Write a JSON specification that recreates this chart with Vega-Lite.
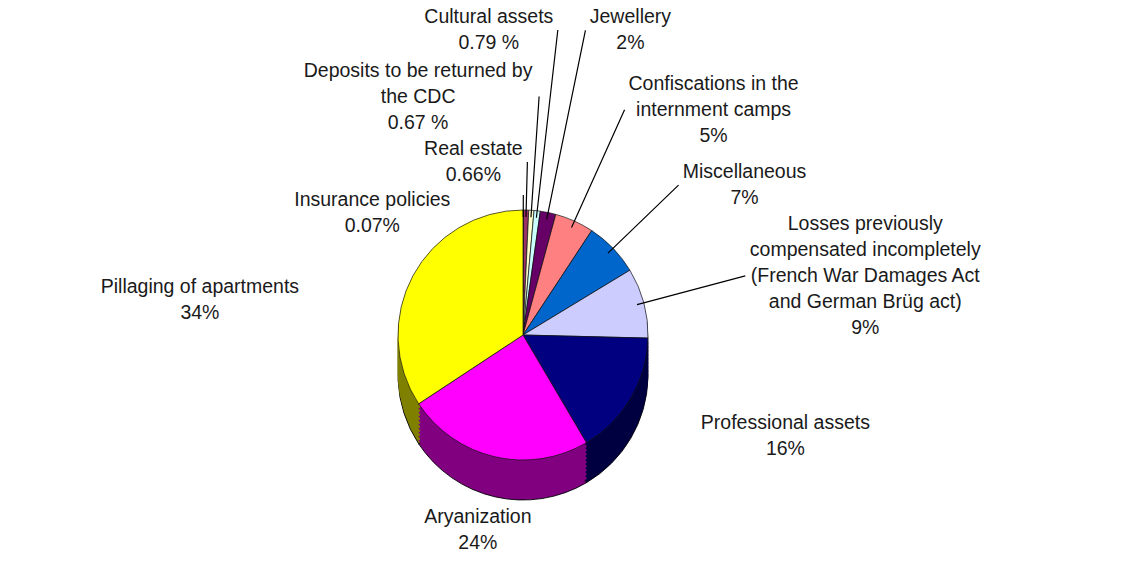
{
  "$schema": "https://vega.github.io/schema/vega-lite/v6.json",
  "width": 1046,
  "height": 478,
  "autosize": {"type": "none"},
  "padding": {"left": 0, "top": 96, "right": 87, "bottom": 0},
  "background": "white",
  "config": {"view": {"stroke": null}, "text": {"font": "Liberation Sans", "fontSize": 19.5, "lineHeight": 26, "color": "#1a1a1a", "lineBreak": "\n", "baseline": "middle"}},
  "data": {"values": [
    {"category": "Insurance policies", "value": 0.07, "rank": 1, "label": "Insurance policies\n0.07%"},
    {"category": "Real estate", "value": 0.66, "rank": 2, "label": "Real estate\n0.66%"},
    {"category": "Deposits to be returned by the CDC", "value": 0.67, "rank": 3, "label": "Deposits to be returned by\nthe CDC\n0.67 %"},
    {"category": "Cultural assets", "value": 0.79, "rank": 4, "label": "Cultural assets\n0.79 %"},
    {"category": "Jewellery", "value": 2, "rank": 5, "label": "Jewellery\n2%"},
    {"category": "Confiscations in the internment camps", "value": 5, "rank": 6, "label": "Confiscations in the\ninternment camps\n5%"},
    {"category": "Miscellaneous", "value": 7, "rank": 7, "label": "Miscellaneous\n7%"},
    {"category": "Losses previously compensated incompletely", "value": 9, "rank": 8, "label": "Losses previously\ncompensated incompletely\n(French War Damages Act\nand German Brüg act)\n9%"},
    {"category": "Professional assets", "value": 16, "rank": 9, "label": "Professional assets\n16%"},
    {"category": "Aryanization", "value": 24, "rank": 10, "label": "Aryanization\n24%"},
    {"category": "Pillaging of apartments", "value": 34, "rank": 11, "label": "Pillaging of apartments\n34%"}
  ]},
  "layer": [
    {"mark": {"type": "arc", "yOffset": 40, "stroke": "#000", "strokeWidth": 0.9}, "encoding": {"theta": {"field": "value", "type": "quantitative", "stack": true}, "order": {"field": "rank", "type": "quantitative"}, "radius": {"value": 125}, "fill": {"field": "category", "type": "nominal", "legend": null, "scale": {"domain": ["Insurance policies", "Real estate", "Deposits to be returned by the CDC", "Cultural assets", "Jewellery", "Confiscations in the internment camps", "Miscellaneous", "Losses previously compensated incompletely", "Professional assets", "Aryanization", "Pillaging of apartments"], "range": ["#4C4C80", "#4D1A33", "#808066", "#668080", "#330033", "#804040", "#003366", "#666680", "#000040", "#800080", "#808000"]}}}},
    {"mark": {"type": "arc", "yOffset": 36, "strokeWidth": 1}, "encoding": {"theta": {"field": "value", "type": "quantitative", "stack": true}, "order": {"field": "rank", "type": "quantitative"}, "radius": {"value": 125}, "fill": {"field": "category", "type": "nominal", "legend": null}, "stroke": {"field": "category", "type": "nominal", "legend": null, "scale": {"domain": ["Insurance policies", "Real estate", "Deposits to be returned by the CDC", "Cultural assets", "Jewellery", "Confiscations in the internment camps", "Miscellaneous", "Losses previously compensated incompletely", "Professional assets", "Aryanization", "Pillaging of apartments"], "range": ["#4C4C80", "#4D1A33", "#808066", "#668080", "#330033", "#804040", "#003366", "#666680", "#000040", "#800080", "#808000"]}}}},
    {"mark": {"type": "arc", "yOffset": 32, "strokeWidth": 1}, "encoding": {"theta": {"field": "value", "type": "quantitative", "stack": true}, "order": {"field": "rank", "type": "quantitative"}, "radius": {"value": 125}, "fill": {"field": "category", "type": "nominal", "legend": null}, "stroke": {"field": "category", "type": "nominal", "legend": null}}},
    {"mark": {"type": "arc", "yOffset": 28, "strokeWidth": 1}, "encoding": {"theta": {"field": "value", "type": "quantitative", "stack": true}, "order": {"field": "rank", "type": "quantitative"}, "radius": {"value": 125}, "fill": {"field": "category", "type": "nominal", "legend": null}, "stroke": {"field": "category", "type": "nominal", "legend": null}}},
    {"mark": {"type": "arc", "yOffset": 24, "strokeWidth": 1}, "encoding": {"theta": {"field": "value", "type": "quantitative", "stack": true}, "order": {"field": "rank", "type": "quantitative"}, "radius": {"value": 125}, "fill": {"field": "category", "type": "nominal", "legend": null}, "stroke": {"field": "category", "type": "nominal", "legend": null}}},
    {"mark": {"type": "arc", "yOffset": 20, "strokeWidth": 1}, "encoding": {"theta": {"field": "value", "type": "quantitative", "stack": true}, "order": {"field": "rank", "type": "quantitative"}, "radius": {"value": 125}, "fill": {"field": "category", "type": "nominal", "legend": null}, "stroke": {"field": "category", "type": "nominal", "legend": null}}},
    {"mark": {"type": "arc", "yOffset": 16, "strokeWidth": 1}, "encoding": {"theta": {"field": "value", "type": "quantitative", "stack": true}, "order": {"field": "rank", "type": "quantitative"}, "radius": {"value": 125}, "fill": {"field": "category", "type": "nominal", "legend": null}, "stroke": {"field": "category", "type": "nominal", "legend": null}}},
    {"mark": {"type": "arc", "yOffset": 12, "strokeWidth": 1}, "encoding": {"theta": {"field": "value", "type": "quantitative", "stack": true}, "order": {"field": "rank", "type": "quantitative"}, "radius": {"value": 125}, "fill": {"field": "category", "type": "nominal", "legend": null}, "stroke": {"field": "category", "type": "nominal", "legend": null}}},
    {"mark": {"type": "arc", "yOffset": 8, "strokeWidth": 1}, "encoding": {"theta": {"field": "value", "type": "quantitative", "stack": true}, "order": {"field": "rank", "type": "quantitative"}, "radius": {"value": 125}, "fill": {"field": "category", "type": "nominal", "legend": null}, "stroke": {"field": "category", "type": "nominal", "legend": null}}},
    {"mark": {"type": "arc", "yOffset": 4, "strokeWidth": 1}, "encoding": {"theta": {"field": "value", "type": "quantitative", "stack": true}, "order": {"field": "rank", "type": "quantitative"}, "radius": {"value": 125}, "fill": {"field": "category", "type": "nominal", "legend": null}, "stroke": {"field": "category", "type": "nominal", "legend": null}}},
    {"mark": {"type": "arc", "stroke": "#111", "strokeWidth": 0.7}, "encoding": {"theta": {"field": "value", "type": "quantitative", "stack": true}, "order": {"field": "rank", "type": "quantitative"}, "radius": {"value": 125}, "color": {"field": "category", "type": "nominal", "legend": null, "scale": {"domain": ["Insurance policies", "Real estate", "Deposits to be returned by the CDC", "Cultural assets", "Jewellery", "Confiscations in the internment camps", "Miscellaneous", "Losses previously compensated incompletely", "Professional assets", "Aryanization", "Pillaging of apartments"], "range": ["#9999FF", "#993366", "#FFFFCC", "#CCFFFF", "#660066", "#FF8080", "#0066CC", "#CCCCFF", "#000080", "#FF00FF", "#FFFF00"]}}}},
    {"mark": {"type": "arc", "padAngle": 3.14, "filled": false, "stroke": "#000", "strokeWidth": 1.2}, "encoding": {"theta": {"field": "value", "type": "quantitative", "stack": true}, "order": {"field": "rank", "type": "quantitative"}, "radius": {"value": 140}, "radius2": {"value": 118}, "strokeOpacity": {"condition": {"test": "datum.category === 'Insurance policies'", "value": 1}, "value": 0}}},
    {"mark": {"type": "arc", "padAngle": 3.14, "filled": false, "stroke": "#000", "strokeWidth": 1.2}, "encoding": {"theta": {"field": "value", "type": "quantitative", "stack": true}, "order": {"field": "rank", "type": "quantitative"}, "radius": {"value": 173}, "radius2": {"value": 118}, "strokeOpacity": {"condition": {"test": "datum.category === 'Real estate'", "value": 1}, "value": 0}}},
    {"mark": {"type": "arc", "padAngle": 3.14, "filled": false, "stroke": "#000", "strokeWidth": 1.2}, "encoding": {"theta": {"field": "value", "type": "quantitative", "stack": true}, "order": {"field": "rank", "type": "quantitative"}, "radius": {"value": 239}, "radius2": {"value": 118}, "strokeOpacity": {"condition": {"test": "datum.category === 'Deposits to be returned by the CDC'", "value": 1}, "value": 0}}},
    {"mark": {"type": "arc", "padAngle": 3.14, "filled": false, "stroke": "#000", "strokeWidth": 1.2}, "encoding": {"theta": {"field": "value", "type": "quantitative", "stack": true}, "order": {"field": "rank", "type": "quantitative"}, "radius": {"value": 307}, "radius2": {"value": 118}, "strokeOpacity": {"condition": {"test": "datum.category === 'Cultural assets'", "value": 1}, "value": 0}}},
    {"mark": {"type": "arc", "padAngle": 3.14, "filled": false, "stroke": "#000", "strokeWidth": 1.2}, "encoding": {"theta": {"field": "value", "type": "quantitative", "stack": true}, "order": {"field": "rank", "type": "quantitative"}, "radius": {"value": 311}, "radius2": {"value": 118}, "strokeOpacity": {"condition": {"test": "datum.category === 'Jewellery'", "value": 1}, "value": 0}}},
    {"mark": {"type": "arc", "padAngle": 3.14, "filled": false, "stroke": "#000", "strokeWidth": 1.2}, "encoding": {"theta": {"field": "value", "type": "quantitative", "stack": true}, "order": {"field": "rank", "type": "quantitative"}, "radius": {"value": 247}, "radius2": {"value": 118}, "strokeOpacity": {"condition": {"test": "datum.category === 'Confiscations in the internment camps'", "value": 1}, "value": 0}}},
    {"mark": {"type": "arc", "padAngle": 3.14, "filled": false, "stroke": "#000", "strokeWidth": 1.2}, "encoding": {"theta": {"field": "value", "type": "quantitative", "stack": true}, "order": {"field": "rank", "type": "quantitative"}, "radius": {"value": 216}, "radius2": {"value": 118}, "strokeOpacity": {"condition": {"test": "datum.category === 'Miscellaneous'", "value": 1}, "value": 0}}},
    {"mark": {"type": "arc", "padAngle": 3.14, "filled": false, "stroke": "#000", "strokeWidth": 1.2}, "encoding": {"theta": {"field": "value", "type": "quantitative", "stack": true}, "order": {"field": "rank", "type": "quantitative"}, "radius": {"value": 230}, "radius2": {"value": 118}, "strokeOpacity": {"condition": {"test": "datum.category === 'Losses previously compensated incompletely'", "value": 1}, "value": 0}}},
    {"mark": {"type": "text", "align": "center", "dx": -151, "dy": 5}, "encoding": {"theta": {"field": "value", "type": "quantitative", "stack": true}, "order": {"field": "rank", "type": "quantitative"}, "radius": {"value": 140}, "text": {"condition": {"test": "datum.category === 'Insurance policies'", "field": "label", "type": "nominal"}, "value": ""}}},
    {"mark": {"type": "text", "align": "center", "dx": -54, "dy": -13}, "encoding": {"theta": {"field": "value", "type": "quantitative", "stack": true}, "order": {"field": "rank", "type": "quantitative"}, "radius": {"value": 173}, "text": {"condition": {"test": "datum.category === 'Real estate'", "field": "label", "type": "nominal"}, "value": ""}}},
    {"mark": {"type": "text", "align": "center", "dx": -121, "dy": -26}, "encoding": {"theta": {"field": "value", "type": "quantitative", "stack": true}, "order": {"field": "rank", "type": "quantitative"}, "radius": {"value": 239}, "text": {"condition": {"test": "datum.category === 'Deposits to be returned by the CDC'", "field": "label", "type": "nominal"}, "value": ""}}},
    {"mark": {"type": "text", "align": "center", "dx": -69, "dy": -13}, "encoding": {"theta": {"field": "value", "type": "quantitative", "stack": true}, "order": {"field": "rank", "type": "quantitative"}, "radius": {"value": 307}, "text": {"condition": {"test": "datum.category === 'Cultural assets'", "field": "label", "type": "nominal"}, "value": ""}}},
    {"mark": {"type": "text", "align": "center", "dx": 45, "dy": -13}, "encoding": {"theta": {"field": "value", "type": "quantitative", "stack": true}, "order": {"field": "rank", "type": "quantitative"}, "radius": {"value": 311}, "text": {"condition": {"test": "datum.category === 'Jewellery'", "field": "label", "type": "nominal"}, "value": ""}}},
    {"mark": {"type": "text", "align": "center", "dx": 89, "dy": -26}, "encoding": {"theta": {"field": "value", "type": "quantitative", "stack": true}, "order": {"field": "rank", "type": "quantitative"}, "radius": {"value": 247}, "text": {"condition": {"test": "datum.category === 'Confiscations in the internment camps'", "field": "label", "type": "nominal"}, "value": ""}}},
    {"mark": {"type": "text", "align": "center", "dx": 66, "dy": -13}, "encoding": {"theta": {"field": "value", "type": "quantitative", "stack": true}, "order": {"field": "rank", "type": "quantitative"}, "radius": {"value": 216}, "text": {"condition": {"test": "datum.category === 'Miscellaneous'", "field": "label", "type": "nominal"}, "value": ""}}},
    {"mark": {"type": "text", "align": "center", "dx": 120, "dy": -52}, "encoding": {"theta": {"field": "value", "type": "quantitative", "stack": true}, "order": {"field": "rank", "type": "quantitative"}, "radius": {"value": 230}, "text": {"condition": {"test": "datum.category === 'Losses previously compensated incompletely'", "field": "label", "type": "nominal"}, "value": ""}}},
    {"mark": {"type": "text", "align": "center", "dx": 90, "dy": -13}, "encoding": {"theta": {"field": "value", "type": "quantitative", "stack": true}, "order": {"field": "rank", "type": "quantitative"}, "radius": {"value": 200}, "text": {"condition": {"test": "datum.category === 'Professional assets'", "field": "label", "type": "nominal"}, "value": ""}}},
    {"mark": {"type": "text", "align": "center", "dy": -13}, "encoding": {"theta": {"field": "value", "type": "quantitative", "stack": true}, "order": {"field": "rank", "type": "quantitative"}, "radius": {"value": 200}, "text": {"condition": {"test": "datum.category === 'Aryanization'", "field": "label", "type": "nominal"}, "value": ""}}},
    {"mark": {"type": "text", "align": "center", "dx": -147, "dy": 47}, "encoding": {"theta": {"field": "value", "type": "quantitative", "stack": true}, "order": {"field": "rank", "type": "quantitative"}, "radius": {"value": 200}, "text": {"condition": {"test": "datum.category === 'Pillaging of apartments'", "field": "label", "type": "nominal"}, "value": ""}}}
  ]
}
